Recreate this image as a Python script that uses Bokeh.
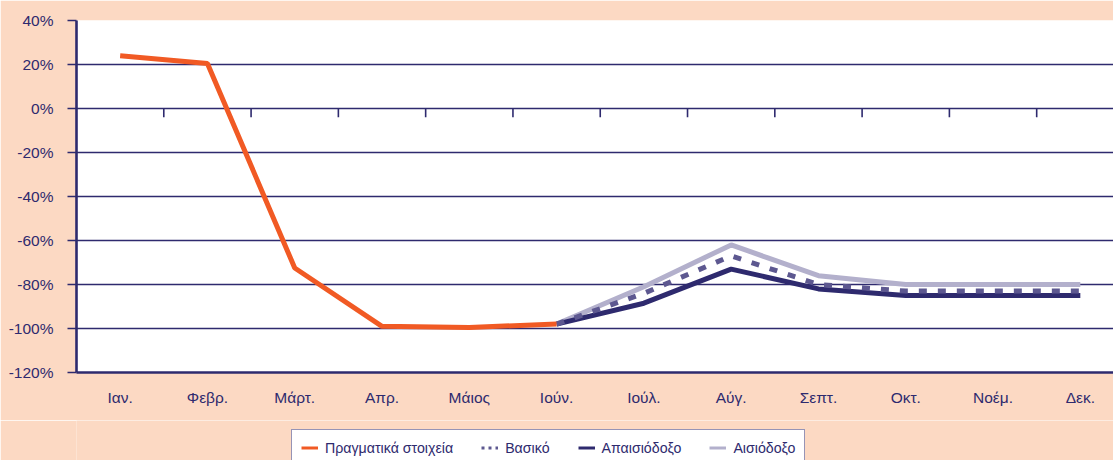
from bokeh.plotting import figure
from bokeh.layouts import column
from bokeh.models import (Range1d, FixedTicker, PrintfTickFormatter, Legend,
                          LegendItem, ColumnDataSource)
from bokeh.embed import file_html
from bokeh.resources import INLINE

# Monthly change (%) – actual data and three scenarios
months = ["Ιαν.", "Φεβρ.", "Μάρτ.", "Απρ.", "Μάιος", "Ιούν.",
          "Ιούλ.", "Αύγ.", "Σεπτ.", "Οκτ.", "Νοέμ.", "Δεκ."]
actual = [24, 20.5, -72.5, -99, -99.5, -98]
baseline = [-98, -84, -67, -80, -83, -83, -83]
pessimistic = [-98, -88.5, -73, -82, -85, -85, -85]
optimistic = [-98, -81, -62, -76, -80, -80, -80]
y_ticks = [-120, -100, -80, -60, -40, -20, 0, 20, 40]

NAVY = "#2e2a6e"
ORANGE = "#f15a24"
DOT = "#5d5890"
LIGHT = "#b3b0cc"
BG = "#fcd9c3"
FONT = "Liberation Sans"
FS = "15.5px"

centers = [i + 0.5 for i in range(len(months))]
start = len(actual) - 1  # scenarios branch from the last actual month

p = figure(width=1113, height=420, output_backend="svg", toolbar_location=None,
           x_range=Range1d(0, 11.88), y_range=Range1d(-120, 40),
           min_border_left=76, min_border_right=0, min_border_top=20,
           min_border_bottom=48)
p.background_fill_color = "white"
p.border_fill_color = BG
p.outline_line_color = None

# y axis
p.yaxis.ticker = FixedTicker(ticks=y_ticks)
p.yaxis.formatter = PrintfTickFormatter(format="%d%%")
p.yaxis.axis_line_color = NAVY
p.yaxis.axis_line_width = 2.6
p.yaxis.major_tick_line_color = NAVY
p.yaxis.major_tick_line_width = 1.5
p.yaxis.major_tick_out = 9
p.yaxis.major_tick_in = 0
p.yaxis.minor_tick_line_color = None
p.yaxis.major_label_standoff = 14
p.yaxis.major_label_text_font = FONT
p.yaxis.major_label_text_font_size = FS
p.yaxis.major_label_text_color = NAVY

# x axis: month labels under the frame
p.xaxis.ticker = FixedTicker(ticks=centers)
p.xaxis.major_label_overrides = {c: m for c, m in zip(centers, months)}
p.xaxis.axis_line_color = NAVY
p.xaxis.axis_line_width = 2.6
p.xaxis.major_tick_line_color = None
p.xaxis.minor_tick_line_color = None
p.xaxis.major_label_standoff = 10
p.xaxis.major_label_text_font = FONT
p.xaxis.major_label_text_font_size = FS
p.xaxis.major_label_text_color = NAVY

p.xgrid.grid_line_color = None
p.ygrid.ticker = FixedTicker(ticks=y_ticks)
p.ygrid.grid_line_color = NAVY
p.ygrid.grid_line_width = 1.3

# category-boundary ticks along the zero line
bounds = list(range(1, len(months)))
p.segment(x0=bounds, y0=[0] * len(bounds), x1=bounds, y1=[-4] * len(bounds),
          line_color=NAVY, line_width=1.6)

# series
opt_src = ColumnDataSource(dict(x=centers[start:], y=optimistic))
pes_src = ColumnDataSource(dict(x=centers[start:], y=pessimistic))
base_src = ColumnDataSource(dict(x=centers[start:], y=baseline))
act_src = ColumnDataSource(dict(x=centers[:len(actual)], y=actual))

p.line("x", "y", source=opt_src, line_color=LIGHT, line_width=5)
p.line("x", "y", source=pes_src, line_color=NAVY, line_width=5)
p.line("x", "y", source=base_src, line_color=DOT, line_width=5,
       line_dash="8 11")
p.line("x", "y", source=act_src, line_color=ORANGE, line_width=5)

# legend strip underneath the chart
lg = figure(width=1113, height=40, output_backend="svg", toolbar_location=None,
            x_range=Range1d(0, 1), y_range=Range1d(0, 1),
            x_axis_location=None, y_axis_location=None,
            min_border=0, min_border_left=0, min_border_right=0,
            min_border_top=0, min_border_bottom=0)
lg.background_fill_color = BG
lg.border_fill_color = BG
lg.outline_line_color = None
lg.xgrid.grid_line_color = None
lg.ygrid.grid_line_color = None

# swatch-only renderers (no visible data) for the legend entries
nan = float("nan")
def swatch(**kw):
    return lg.line("x", "y", source=ColumnDataSource(dict(x=[nan], y=[nan])),
                   line_width=3, **kw)

l_act = swatch(line_color=ORANGE)
l_base = swatch(line_color=DOT, line_dash="3 4")
l_pes = swatch(line_color=NAVY)
l_opt = swatch(line_color=LIGHT)

legend = Legend(items=[LegendItem(label="Πραγματικά στοιχεία", renderers=[l_act]),
                       LegendItem(label="Βασικό", renderers=[l_base]),
                       LegendItem(label="Απαισιόδοξο", renderers=[l_pes]),
                       LegendItem(label="Αισιόδοξο", renderers=[l_opt])],
                orientation="horizontal", location=(215, -6),
                border_line_color=NAVY, border_line_width=1.5,
                background_fill_color="white", background_fill_alpha=1,
                label_text_font=FONT, label_text_font_size="14.2px",
                label_text_color=NAVY, glyph_width=17, label_standoff=7,
                spacing=28, padding=9, label_height=17, glyph_height=17,
                margin=0)
lg.add_layout(legend, "center")

layout = column(p, lg, spacing=0)
open("out.html", "w").write(file_html(layout, INLINE))
